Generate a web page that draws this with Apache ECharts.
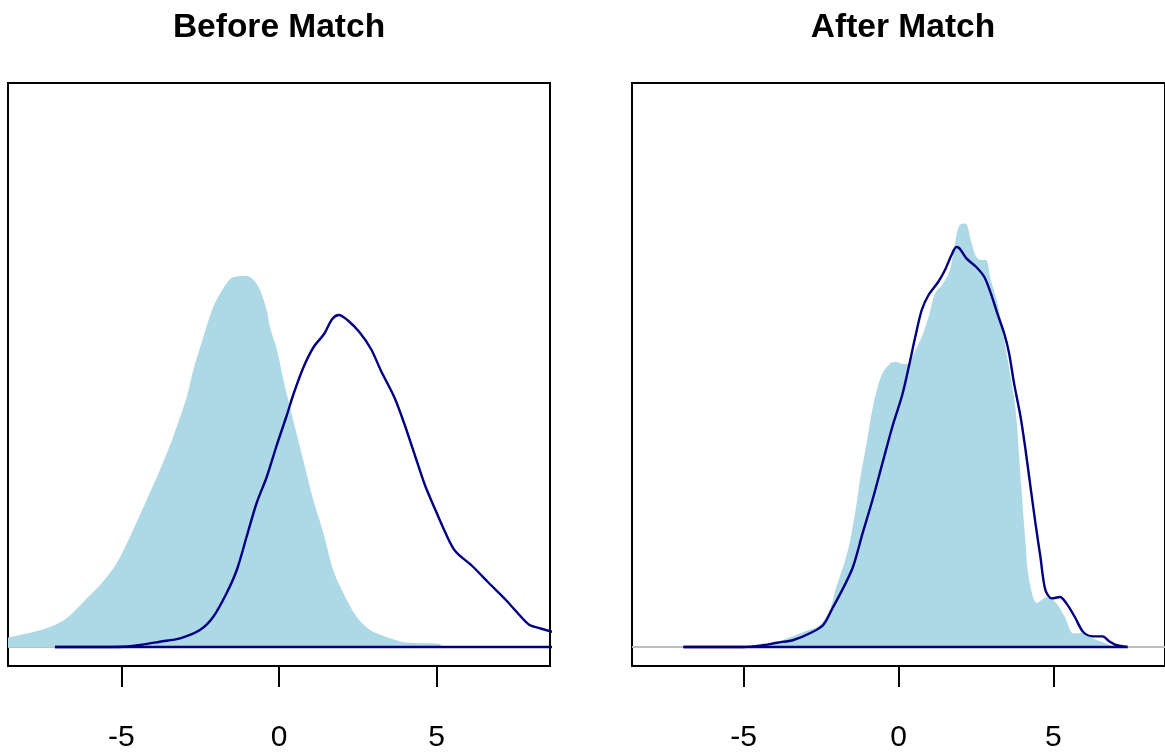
<!DOCTYPE html>
<html>
<head>
<meta charset="utf-8">
<script src="https://cdn.jsdelivr.net/npm/echarts@6/dist/echarts.min.js"></script>
<style>
  html, body { margin: 0; padding: 0; background: #ffffff; }
  #chart { width: 1165px; height: 753px; }
</style>
</head>
<body>
<div id="chart"></div>
<script>
// ---------- data ----------
const panelTitles = ['Before Match', 'After Match'];
const tickValues = [-5, 0, 5];
const xRange = [-8.6, 8.6];
const yRange = [-0.0095, 0.282];

// Before match: filled (light blue) density
const beforeFillX = [-8.6, -8.22, -7.37, -6.74, -6.10, -5.68, -5.15, -4.63, -4.20, -3.78, -3.36, -2.93, -2.72, -2.40, -2.09, -1.80, -1.55, -1.34, -1.10, -0.92, -0.75, -0.60, -0.39, -0.29, -0.07, 0.14, 0.45, 0.77, 1.09, 1.41, 1.72, 2.04, 2.47, 2.89, 3.52, 4.05, 5.11, 5.14];
const beforeFillY = [0.0047, 0.0060, 0.0094, 0.0144, 0.0244, 0.0310, 0.0419, 0.0585, 0.0735, 0.0885, 0.1050, 0.1250, 0.1385, 0.1550, 0.1700, 0.1785, 0.1840, 0.1852, 0.1855, 0.1850, 0.1825, 0.1785, 0.1685, 0.1600, 0.1490, 0.1335, 0.1135, 0.0935, 0.0735, 0.0570, 0.0385, 0.0270, 0.0150, 0.0085, 0.0044, 0.0022, 0.0015, 0];

// Before match: outlined (navy) density
const beforeLineX = [-7.11, -5.5, -4.8, -4.41, -3.78, -3.14, -2.51, -2.09, -1.66, -1.34, -1.03, -0.71, -0.39, -0.07, 0.25, 0.46, 0.78, 1.10, 1.43, 1.69, 1.90, 2.17, 2.55, 2.92, 3.24, 3.67, 3.99, 4.31, 4.63, 4.95, 5.27, 5.59, 6.13, 6.66, 7.20, 7.63, 7.95, 8.27, 8.69, 9.0];
const beforeLineY = [0, 0, 0.00025, 0.001, 0.00265, 0.00435, 0.0085, 0.015, 0.027, 0.0385, 0.055, 0.072, 0.085, 0.101, 0.116, 0.1265, 0.14, 0.15, 0.1565, 0.164, 0.166, 0.1635, 0.1575, 0.149, 0.138, 0.1245, 0.111, 0.096, 0.081, 0.069, 0.0575, 0.048, 0.0405, 0.032, 0.0235, 0.016, 0.011, 0.0094, 0.0075, 0.0065];

// After match: filled (light blue) density
const afterFillX = [-4.55, -3.92, -3.07, -2.54, -2.22, -2.01, -1.79, -1.58, -1.37, -1.21, -1.05, -0.89, -0.73, -0.52, -0.25, -0.10, 0.17, 0.33, 0.44, 0.75, 0.97, 1.18, 1.44, 1.66, 1.82, 1.97, 2.16, 2.35, 2.51, 2.67, 2.82, 2.98, 3.19, 3.41, 3.62, 3.78, 3.94, 4.10, 4.20, 4.47, 4.79, 5.10, 5.37, 5.64, 5.96, 6.27, 6.70, 6.91];
const afterFillY = [0, 0.0025, 0.0075, 0.011, 0.0185, 0.030, 0.040, 0.0518, 0.070, 0.0868, 0.100, 0.115, 0.1268, 0.1368, 0.142, 0.1425, 0.1415, 0.1415, 0.145, 0.155, 0.165, 0.1768, 0.1818, 0.1885, 0.2018, 0.211, 0.2118, 0.2025, 0.195, 0.1935, 0.1935, 0.1835, 0.172, 0.1535, 0.135, 0.1185, 0.085, 0.052, 0.035, 0.022, 0.025, 0.0218, 0.015, 0.0068, 0.007, 0.0043, 0.0018, 0];

// After match: outlined (navy) density
const afterLineX = [-6.94, -5.0, -4.34, -3.92, -3.39, -2.86, -2.43, -2.11, -1.79, -1.47, -1.16, -0.84, -0.52, -0.20, 0.12, 0.33, 0.54, 0.75, 0.97, 1.28, 1.50, 1.71, 1.87, 1.97, 2.19, 2.51, 2.77, 2.98, 3.19, 3.41, 3.57, 3.73, 3.94, 4.10, 4.26, 4.42, 4.58, 4.74, 4.95, 5.21, 5.42, 5.69, 5.96, 6.27, 6.59, 6.81, 7.02, 7.39];
const afterLineY = [0, 0, 0.001, 0.00215, 0.0035, 0.00685, 0.011, 0.020, 0.0293, 0.040, 0.0568, 0.0735, 0.0918, 0.110, 0.126, 0.140, 0.155, 0.1685, 0.176, 0.1825, 0.1885, 0.196, 0.200, 0.1993, 0.1943, 0.190, 0.185, 0.1768, 0.1668, 0.1568, 0.1468, 0.1318, 0.115, 0.0985, 0.080, 0.0618, 0.045, 0.0285, 0.0243, 0.025, 0.0218, 0.015, 0.0075, 0.0053, 0.0053, 0.0027, 0.001, 0];

// ---------- build ----------
function zip(xs, ys) { return xs.map((x, i) => [x, ys[i]]); }
function baseOf(xs) { return [[xs[0], 0], [xs[xs.length - 1], 0]]; }

const FILL = '#ADD8E6';
const NAVY = '#000080';
const FONT = '"Liberation Sans", Arial, Helvetica, sans-serif';

const panels = [
  { fill: zip(beforeFillX, beforeFillY), line: zip(beforeLineX, beforeLineY), base: baseOf(beforeLineX), left: 8, center: 279 },
  { fill: zip(afterFillX, afterFillY), line: zip(afterLineX, afterLineY), base: baseOf(afterLineX), left: 632, center: 903 }
];

const grids = [], xAxes = [], yAxes = [], series = [], titles = [];
panels.forEach((p, i) => {
  grids.push({ left: p.left, top: 83, width: 542, height: 583, show: true,
    borderColor: '#000', borderWidth: 2, backgroundColor: 'transparent', containLabel: false });
  xAxes.push({ type: 'value', gridIndex: i, min: xRange[0], max: xRange[1],
    axisLine: { show: false, onZero: false }, splitLine: { show: false },
    axisTick: { show: true, inside: false, length: 21, customValues: tickValues, lineStyle: { color: '#000', width: 2 } },
    axisLabel: { show: true, customValues: tickValues, margin: 57, fontSize: 30, color: '#000', fontFamily: FONT },
  });
  yAxes.push({ type: 'value', gridIndex: i, min: yRange[0], max: yRange[1], show: false, splitLine: { show: false } });
  series.push({ type: 'line', xAxisIndex: i, yAxisIndex: i, z: 1, symbol: 'none', silent: true,
    data: [[xRange[0], 0], [xRange[1], 0]], lineStyle: { color: '#BEBEBE', width: 2 } });
  series.push({ type: 'line', xAxisIndex: i, yAxisIndex: i, z: 2, symbol: 'none', silent: true,
    smooth: 0.3,
    data: p.fill, lineStyle: { width: 0, color: FILL }, itemStyle: { color: FILL },
    areaStyle: { color: FILL, opacity: 1 } });
  series.push({ type: 'line', xAxisIndex: i, yAxisIndex: i, z: 3, symbol: 'none', silent: true,
    smooth: 0.3,
    data: p.line, lineStyle: { width: 2.4, color: NAVY }, itemStyle: { color: NAVY } });
  series.push({ type: 'line', xAxisIndex: i, yAxisIndex: i, z: 3, symbol: 'none', silent: true,
    data: p.base, lineStyle: { width: 2.4, color: NAVY }, itemStyle: { color: NAVY } });
  titles.push({ text: panelTitles[i], left: p.center, top: 11, padding: 0, textAlign: 'center',
    textStyle: { fontSize: 33.5, fontWeight: 'bold', color: '#000', fontFamily: FONT } });
});

const chart = echarts.init(document.getElementById('chart'), null, { renderer: 'canvas' });
chart.setOption({
  animation: false,
  backgroundColor: '#ffffff',
  title: titles,
  grid: grids,
  xAxis: xAxes,
  yAxis: yAxes,
  series: series
});
</script>
</body>
</html>
